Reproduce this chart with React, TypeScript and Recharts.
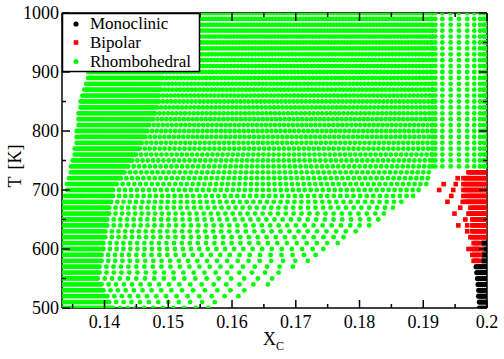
import React from "react";
import { ScatterChart, Scatter, XAxis, YAxis } from "recharts";

const X_MIN = 0.13333;
const X_MAX = 0.2;

// temperature rows of the map (K)
const temps = [
  500, 510, 520, 530, 540, 550, 560, 570, 580, 590, 600, 610, 620, 630, 640, 650, 660,
  670, 680, 690, 700, 710, 720, 730, 740, 750, 760, 770, 780, 790, 800, 810, 820, 830,
  840, 850, 860, 870, 880, 890, 900, 910, 920, 930, 940, 950, 960, 970, 980, 990, 1000,
];

// left edge of the rhombohedral region, one value per row
const greenLeft = [
  0.1333, 0.1333, 0.1333, 0.1333, 0.1333, 0.1333, 0.1333, 0.1333, 0.1333, 0.1333, 0.1333,
  0.1333, 0.1333, 0.1333, 0.1333, 0.1333, 0.1333, 0.1333, 0.1333, 0.1336, 0.134, 0.1341,
  0.1343, 0.1346, 0.1347, 0.1349, 0.1351, 0.1352, 0.1354, 0.1354, 0.1355, 0.1357, 0.1357,
  0.1359, 0.136, 0.1362, 0.1363, 0.1366, 0.137, 0.1373, 0.1374, 0.1377, 0.1381, 0.1385,
  0.1388, 0.1391, 0.1395, 0.1398, 0.1402, 0.1406, 0.141,
];

// right edge of the rhombohedral wedge for rows 500..730
const greenRight = [
  0.1579, 0.1591, 0.1618, 0.164, 0.1657, 0.1676, 0.1693, 0.1708, 0.1723, 0.1739, 0.1755,
  0.177, 0.1786, 0.1802, 0.1816, 0.183, 0.1846, 0.186, 0.1876, 0.189, 0.1901, 0.1907,
  0.1912, 0.1914,
];
const MAIN_END = 0.1915;

// point spacing of the rhombohedral rows, read every 50 K
const ctrlT = [500, 550, 600, 650, 700, 750, 800, 850, 900, 950, 1000];
const denseEnd = [0.1412, 0.1388, 0.1396, 0.1404, 0.1412, 0.1443, 0.1467, 0.1483, 0.1491, 0.1506, 0.1522];
const baseStep = [0.0011, 0.0011, 0.00102, 0.00102, 0.00094, 0.00082, 0.00072, 0.00064, 0.00056, 0.0005, 0.00047];
const stepGrowth = [0.065, 0.045, 0.02, 0.01, 0, 0, 0, 0, 0, 0, 0];

// sparse columns next to X_C = 0.2 (upper rows)
const edgeCols = [0.1914, 0.1919, 0.193, 0.1943, 0.1956, 0.1969, 0.198, 0.1989, 0.1995, 0.1998, 0.2];

// bipolar rows
const bipolarT = [730, 720, 710, 700, 690, 680, 670, 660, 650, 640, 630, 620, 610, 600, 590, 580];
const bipolarSparse = [
  [], [0.1954], [0.1932, 0.1951], [0.1925, 0.1947], [0.1944, 0.1963], [0.1938, 0.1962],
  [0.1958], [0.1949], [0.1966], [0.1955, 0.1969], [0.1969], [], [], [0.1971], [], [],
];
const bipolarBar = [
  0.1971, 0.1963, 0.1963, 0.1963, 0.1969, 0.1966, 0.1974, 0.1971, 0.1977, 0.1977, 0.1977,
  0.1974, 0.1979, 0.1977, 0.1977, 0.1979,
];

// monoclinic rows
const monoT = [610, 600, 590, 580, 570, 560, 550, 540, 530, 520, 510, 500];
const monoStart = [0.1993, 0.1995, 0.1993, 0.1993, 0.1983, 0.1984, 0.1985, 0.1986, 0.1987, 0.1987, 0.1988, 0.1988];

const xTicks = [0.135, 0.14, 0.145, 0.15, 0.155, 0.16, 0.165, 0.17, 0.175, 0.18, 0.185, 0.19, 0.195, 0.2];
const yTicks = [500, 550, 600, 650, 700, 750, 800, 850, 900, 950, 1000];

const ctrl = (arr: number[], T: number) => {
  const k = Math.min(ctrlT.length - 2, Math.floor((T - ctrlT[0]) / 50));
  const f = (T - ctrlT[k]) / (ctrlT[k + 1] - ctrlT[k]);
  return arr[k] + (arr[k + 1] - arr[k]) * f;
};

const rhombo: { x: number; y: number }[] = [];
temps.forEach((T, i) => {
  const left = greenLeft[i];
  const right = T <= 730 ? greenRight[i] : MAIN_END;
  const dEnd = ctrl(denseEnd, T);
  const a = ctrl(baseStep, T);
  const g = ctrl(stepGrowth, T);
  let x = X_MIN + 0.0002;
  while (x <= right) {
    if (x >= left) rhombo.push({ x, y: T });
    x += x < dEnd ? 0.0003 : a + g * (x - dEnd);
  }
  if (T >= 740) edgeCols.forEach((c) => rhombo.push({ x: c, y: T }));
});

const bipolar: { x: number; y: number }[] = [];
bipolarT.forEach((T, i) => {
  bipolarSparse[i].forEach((x) => bipolar.push({ x, y: T }));
  const mi = monoT.indexOf(T);
  const end = mi >= 0 ? monoStart[mi] - 0.0003 : X_MAX;
  for (let x = bipolarBar[i]; x <= end + 1e-9; x += 0.0003) bipolar.push({ x, y: T });
});

const mono: { x: number; y: number }[] = [];
monoT.forEach((T, i) => {
  for (let x = monoStart[i]; x <= X_MAX + 1e-9; x += 0.0003) mono.push({ x, y: T });
});

const font = "Liberation Serif";
const frame = { stroke: "#000", strokeWidth: 1.5 };

const isMajorX = (v: number) => Math.abs(v * 100 - Math.round(v * 100)) < 1e-6;
const isMajorY = (v: number) => v % 100 === 0;

// ticks point into the plot on all four sides
const BottomTick = (p: any) => {
  const major = isMajorX(p.payload.value);
  return (
    <g>
      <line x1={p.x} x2={p.x} y1={p.y} y2={p.y - (major ? 8 : 4)} stroke="#000" strokeWidth={1.5} />
      {major && (
        <text x={p.x} y={p.y + 20} textAnchor="middle" fontFamily={font} fontSize={18} fill="#000">
          {String(p.payload.value)}
        </text>
      )}
    </g>
  );
};
const TopTick = (p: any) => (
  <line x1={p.x} x2={p.x} y1={p.y} y2={p.y + (isMajorX(p.payload.value) ? 8 : 4)} stroke="#000" strokeWidth={1.5} />
);
const LeftTick = (p: any) => {
  const major = isMajorY(p.payload.value);
  return (
    <g>
      <line x1={p.x} x2={p.x + (major ? 8 : 4)} y1={p.y} y2={p.y} stroke="#000" strokeWidth={1.5} />
      {major && (
        <text x={p.x - 3} y={p.y + 6} textAnchor="end" fontFamily={font} fontSize={18} fill="#000">
          {p.payload.value}
        </text>
      )}
    </g>
  );
};
const RightTick = (p: any) => (
  <line x1={p.x} x2={p.x - (isMajorY(p.payload.value) ? 8 : 4)} y1={p.y} y2={p.y} stroke="#000" strokeWidth={1.5} />
);

const blackDot = (p: any) => <circle cx={p.cx} cy={p.cy} r={2.6} fill="#000" />;
const redSquare = (p: any) => <rect x={p.cx - 2.3} y={p.cy - 2.3} width={4.6} height={4.6} fill="#ff0000" />;
const greenDot = (p: any) => <circle cx={p.cx} cy={p.cy} r={2.4} fill="#00ff00" />;

export default function App() {
  return (
    <div style={{ position: "absolute", left: 0, top: 0, width: 504, height: 359, background: "#fff" }}>
      <ScatterChart width={504} height={359} margin={{ top: 12, right: 16, bottom: 50, left: 61 }}>
        <XAxis xAxisId="t" orientation="top" type="number" dataKey="x" domain={[X_MIN, X_MAX]} allowDataOverflow ticks={xTicks} interval={0} height={1} tickSize={0} tickMargin={0} tickLine={false} tick={<TopTick />} axisLine={frame} />
        <XAxis xAxisId="b" type="number" dataKey="x" domain={[X_MIN, X_MAX]} allowDataOverflow ticks={xTicks} interval={0} height={1} tickSize={0} tickMargin={0} tickLine={false} tick={<BottomTick />} axisLine={frame} />
        <YAxis yAxisId="r" orientation="right" type="number" dataKey="y" domain={[500, 1000]} allowDataOverflow ticks={yTicks} interval={0} width={1} tickSize={0} tickMargin={0} tickLine={false} tick={<RightTick />} axisLine={frame} />
        <YAxis yAxisId="l" type="number" dataKey="y" domain={[500, 1000]} allowDataOverflow ticks={yTicks} interval={0} width={1} tickSize={0} tickMargin={0} tickLine={false} tick={<LeftTick />} axisLine={frame} />
        <Scatter name="Monoclinic" data={mono} xAxisId="b" yAxisId="l" shape={blackDot} isAnimationActive={false} />
        <Scatter name="Bipolar" data={bipolar} xAxisId="b" yAxisId="l" shape={redSquare} isAnimationActive={false} />
        <Scatter name="Rhombohedral" data={rhombo} xAxisId="b" yAxisId="l" shape={greenDot} isAnimationActive={false} />
      </ScatterChart>
      <svg width={504} height={359} style={{ position: "absolute", left: 0, top: 0, pointerEvents: "none" }}>
        <rect x={62.5} y={13.5} width={137} height={58} fill="#fff" stroke="#000" strokeWidth={1.5} />
        <circle cx={76} cy={24} r={2.6} fill="#000" />
        <text x={90} y={29} fontFamily={font} fontSize={17}>Monoclinic</text>
        <rect x={73.7} y={40.2} width={4.6} height={4.6} fill="#ff0000" />
        <text x={90} y={48} fontFamily={font} fontSize={17}>Bipolar</text>
        <circle cx={76} cy={61.5} r={2.5} fill="#00ff00" />
        <text x={90} y={67} fontFamily={font} fontSize={17}>Rhombohedral</text>
        <text transform="translate(21,166) rotate(-90)" textAnchor="middle" fontFamily={font} fontSize={18}>
          T<tspan dx={7}>[K]</tspan>
        </text>
        <text x={263} y={345} fontFamily={font} fontSize={18}>
          X<tspan fontSize={12} dy={5}>C</tspan>
        </text>
      </svg>
    </div>
  );
}
